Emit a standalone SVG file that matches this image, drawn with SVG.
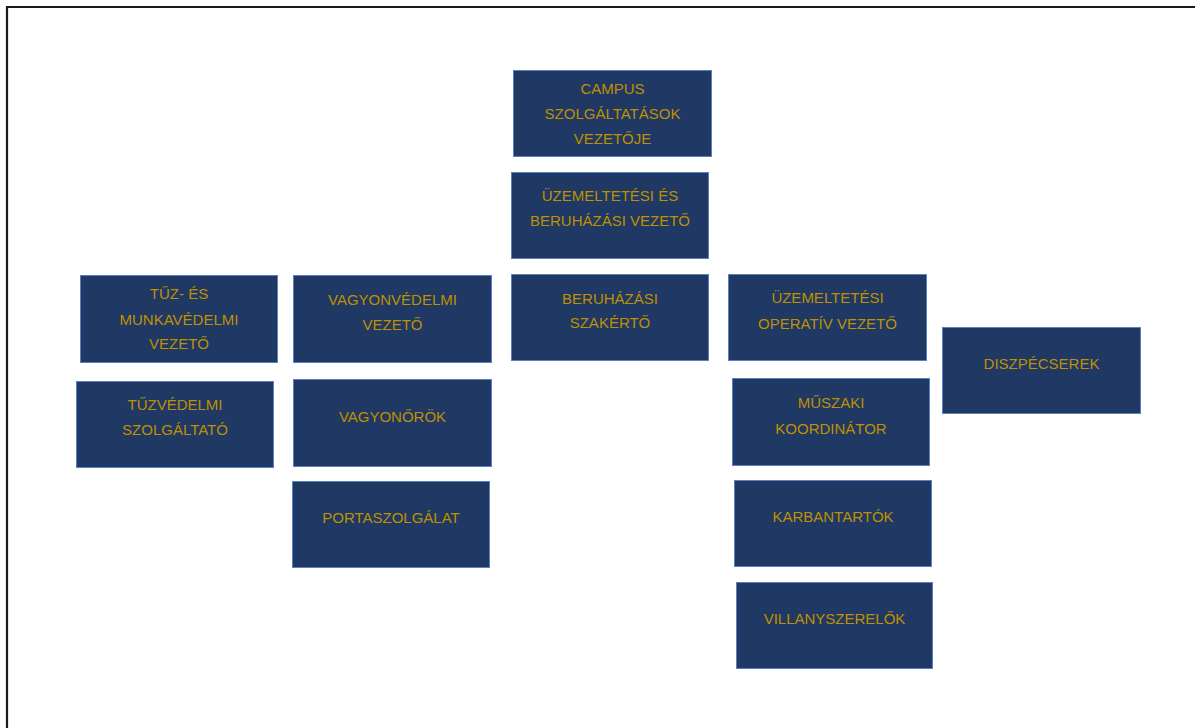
<svg xmlns="http://www.w3.org/2000/svg" width="1195" height="728" viewBox="0 0 1195 728">
<style>
.box{fill:#203864;stroke:#5b7fc0;stroke-width:1}
.t{font-family:"Liberation Sans",Arial,sans-serif;font-size:15px;fill:#bf9000;text-anchor:middle}
.frame{stroke:#1a1a1a;stroke-width:2.2;fill:none}
</style>
<rect width="1195" height="728" fill="#ffffff"/>
<path class="frame" d="M7,728 V7 H1195"/>
<g id="connectors"></g>
<g id="n-campus"><rect class="box" x="513.5" y="70.5" width="198" height="86"/><text class="t" x="612.5" y="94">CAMPUS</text><text class="t" x="612.5" y="119">SZOLGÁLTATÁSOK</text><text class="t" x="612.5" y="144">VEZETŐJE</text></g>
<g id="n-uzem-beruh"><rect class="box" x="511.5" y="172.5" width="197" height="86"/><text class="t" x="610" y="201">ÜZEMELTETÉSI ÉS</text><text class="t" x="610" y="226">BERUHÁZÁSI VEZETŐ</text></g>
<g id="n-beruh-szak"><rect class="box" x="511.5" y="274.5" width="197" height="86"/><text class="t" x="610" y="304">BERUHÁZÁSI</text><text class="t" x="610" y="328">SZAKÉRTŐ</text></g>
<g id="n-tuz-munka"><rect class="box" x="80.5" y="275.5" width="197" height="87"/><text class="t" x="179" y="299">TŰZ- ÉS</text><text class="t" x="179" y="325">MUNKAVÉDELMI</text><text class="t" x="179" y="349">VEZETŐ</text></g>
<g id="n-tuzved-szolg"><rect class="box" x="76.5" y="381.5" width="197" height="86"/><text class="t" x="175" y="410">TŰZVÉDELMI</text><text class="t" x="175" y="435">SZOLGÁLTATÓ</text></g>
<g id="n-vagyonved"><rect class="box" x="293.5" y="275.5" width="198" height="87"/><text class="t" x="392.5" y="305">VAGYONVÉDELMI</text><text class="t" x="392.5" y="330">VEZETŐ</text></g>
<g id="n-vagyonor"><rect class="box" x="293.5" y="379.5" width="198" height="87"/><text class="t" x="392.5" y="422">VAGYONŐRÖK</text></g>
<g id="n-porta"><rect class="box" x="292.5" y="481.5" width="197" height="86"/><text class="t" x="391" y="523">PORTASZOLGÁLAT</text></g>
<g id="n-uzem-oper"><rect class="box" x="728.5" y="274.5" width="198" height="86"/><text class="t" x="827.5" y="303">ÜZEMELTETÉSI</text><text class="t" x="827.5" y="329">OPERATÍV VEZETŐ</text></g>
<g id="n-muszaki"><rect class="box" x="732.5" y="378.5" width="197" height="87"/><text class="t" x="831" y="408">MŰSZAKI</text><text class="t" x="831" y="434">KOORDINÁTOR</text></g>
<g id="n-karban"><rect class="box" x="734.5" y="480.5" width="197" height="86"/><text class="t" x="833" y="522">KARBANTARTÓK</text></g>
<g id="n-villany"><rect class="box" x="736.5" y="582.5" width="196" height="86"/><text class="t" x="834.5" y="624">VILLANYSZERELŐK</text></g>
<g id="n-diszp"><rect class="box" x="942.5" y="327.5" width="198" height="86"/><text class="t" x="1041.5" y="369">DISZPÉCSEREK</text></g>
</svg>
